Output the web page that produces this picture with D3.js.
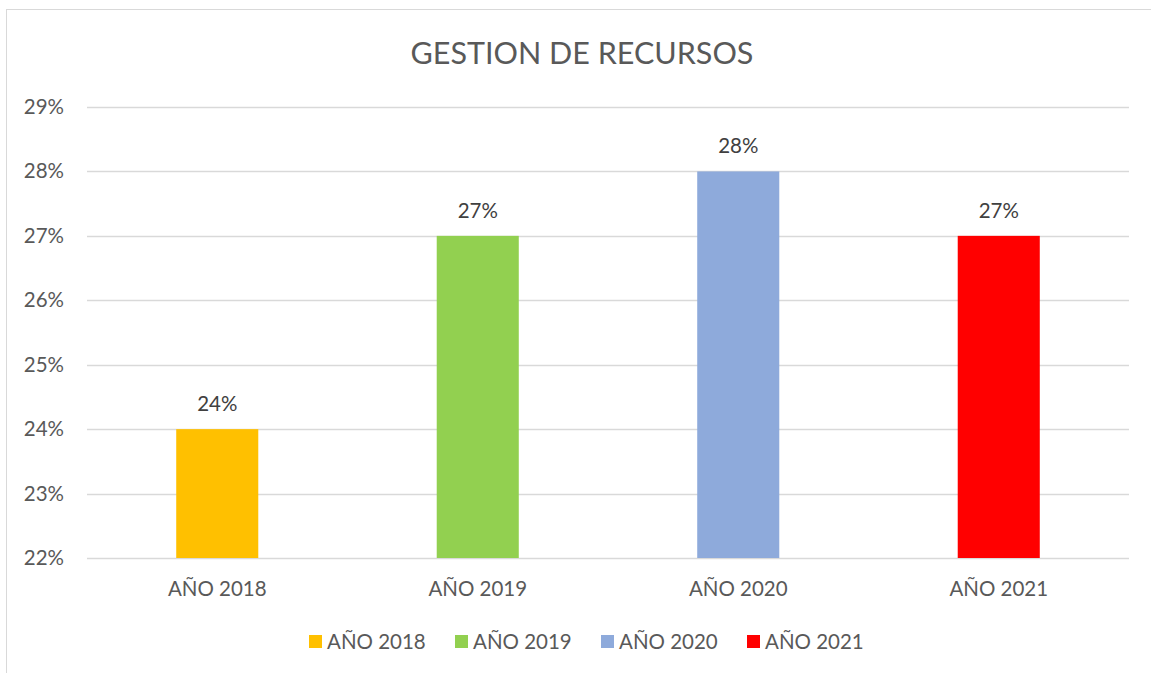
<!DOCTYPE html>
<html>
<head>
<meta charset="utf-8">
<script src="https://cdn.jsdelivr.net/npm/d3@7"></script>
<style>
  body { margin: 0; background: #fff; }
  text { font-family: Lato, "Open Sans", sans-serif; }
</style>
</head>
<body>
<div id="chart"></div>
<script>
const years = ["AÑO 2018", "AÑO 2019", "AÑO 2020", "AÑO 2021"];
const values = [0.24, 0.27, 0.28, 0.27];
const colors = ["#ffc000", "#92d050", "#8eaadb", "#ff0000"];
const yTicks = [0.22, 0.23, 0.24, 0.25, 0.26, 0.27, 0.28, 0.29];

const width = 1151, height = 673;

const svg = d3.select("#chart")
    .append("svg")
    .attr("width", width)
    .attr("height", height);

// chart frame
svg.append("rect")
    .attr("x", 6.5).attr("y", 9.5)
    .attr("width", 1200).attr("height", 700)
    .attr("fill", "#fff")
    .attr("stroke", "#d9d9d9");

const x = d3.scaleBand()
    .domain(years)
    .range([87, 1129])
    .paddingInner(0.685)
    .paddingOuter(0.3425);

const y = d3.scaleLinear()
    .domain([0.22, 0.29])
    .range([558, 107]);

const fmt = d3.format(".0%");

svg.append("text")
    .attr("x", 582).attr("y", 64)
    .attr("text-anchor", "middle")
    .attr("fill", "#595959")
    .attr("font-size", 30.5)
    .text("GESTION DE RECURSOS");

// gridlines
svg.append("g")
    .selectAll("line")
    .data(yTicks)
    .join("line")
    .attr("x1", 87).attr("x2", 1129)
    .attr("y1", d => Math.round(y(d)) + 0.5)
    .attr("y2", d => Math.round(y(d)) + 0.5)
    .attr("stroke", "#d9d9d9")
    .attr("stroke-width", 1.5);

// y labels
svg.append("g")
    .selectAll("text")
    .data(yTicks)
    .join("text")
    .attr("x", 64)
    .attr("y", d => y(d) + 7)
    .attr("text-anchor", "end")
    .attr("fill", "#595959")
    .attr("font-size", 20.5)
    .text(d => fmt(d));

// bars
svg.append("g")
    .selectAll("rect")
    .data(years)
    .join("rect")
    .attr("x", d => x(d))
    .attr("width", x.bandwidth())
    .attr("y", (d, i) => y(values[i]))
    .attr("height", (d, i) => y(0.22) - y(values[i]))
    .attr("fill", (d, i) => colors[i]);

// data labels
svg.append("g")
    .selectAll("text")
    .data(years)
    .join("text")
    .attr("x", d => x(d) + x.bandwidth() / 2)
    .attr("y", (d, i) => y(values[i]) - 18)
    .attr("text-anchor", "middle")
    .attr("fill", "#404040")
    .attr("font-size", 20.5)
    .text((d, i) => fmt(values[i]));

// x labels
svg.append("g")
    .selectAll("text")
    .data(years)
    .join("text")
    .attr("x", d => x(d) + x.bandwidth() / 2)
    .attr("y", 596)
    .attr("text-anchor", "middle")
    .attr("fill", "#595959")
    .attr("font-size", 20.5)
    .text(d => d);

// legend
const legend = svg.append("g")
    .selectAll("g")
    .data(years)
    .join("g")
    .attr("transform", (d, i) => `translate(${309 + i * 146},635)`);

legend.append("rect")
    .attr("width", 13).attr("height", 13)
    .attr("fill", (d, i) => colors[i]);

legend.append("text")
    .attr("x", 18).attr("y", 13.5)
    .attr("fill", "#595959")
    .attr("font-size", 20.5)
    .text(d => d);
</script>
</body>
</html>
